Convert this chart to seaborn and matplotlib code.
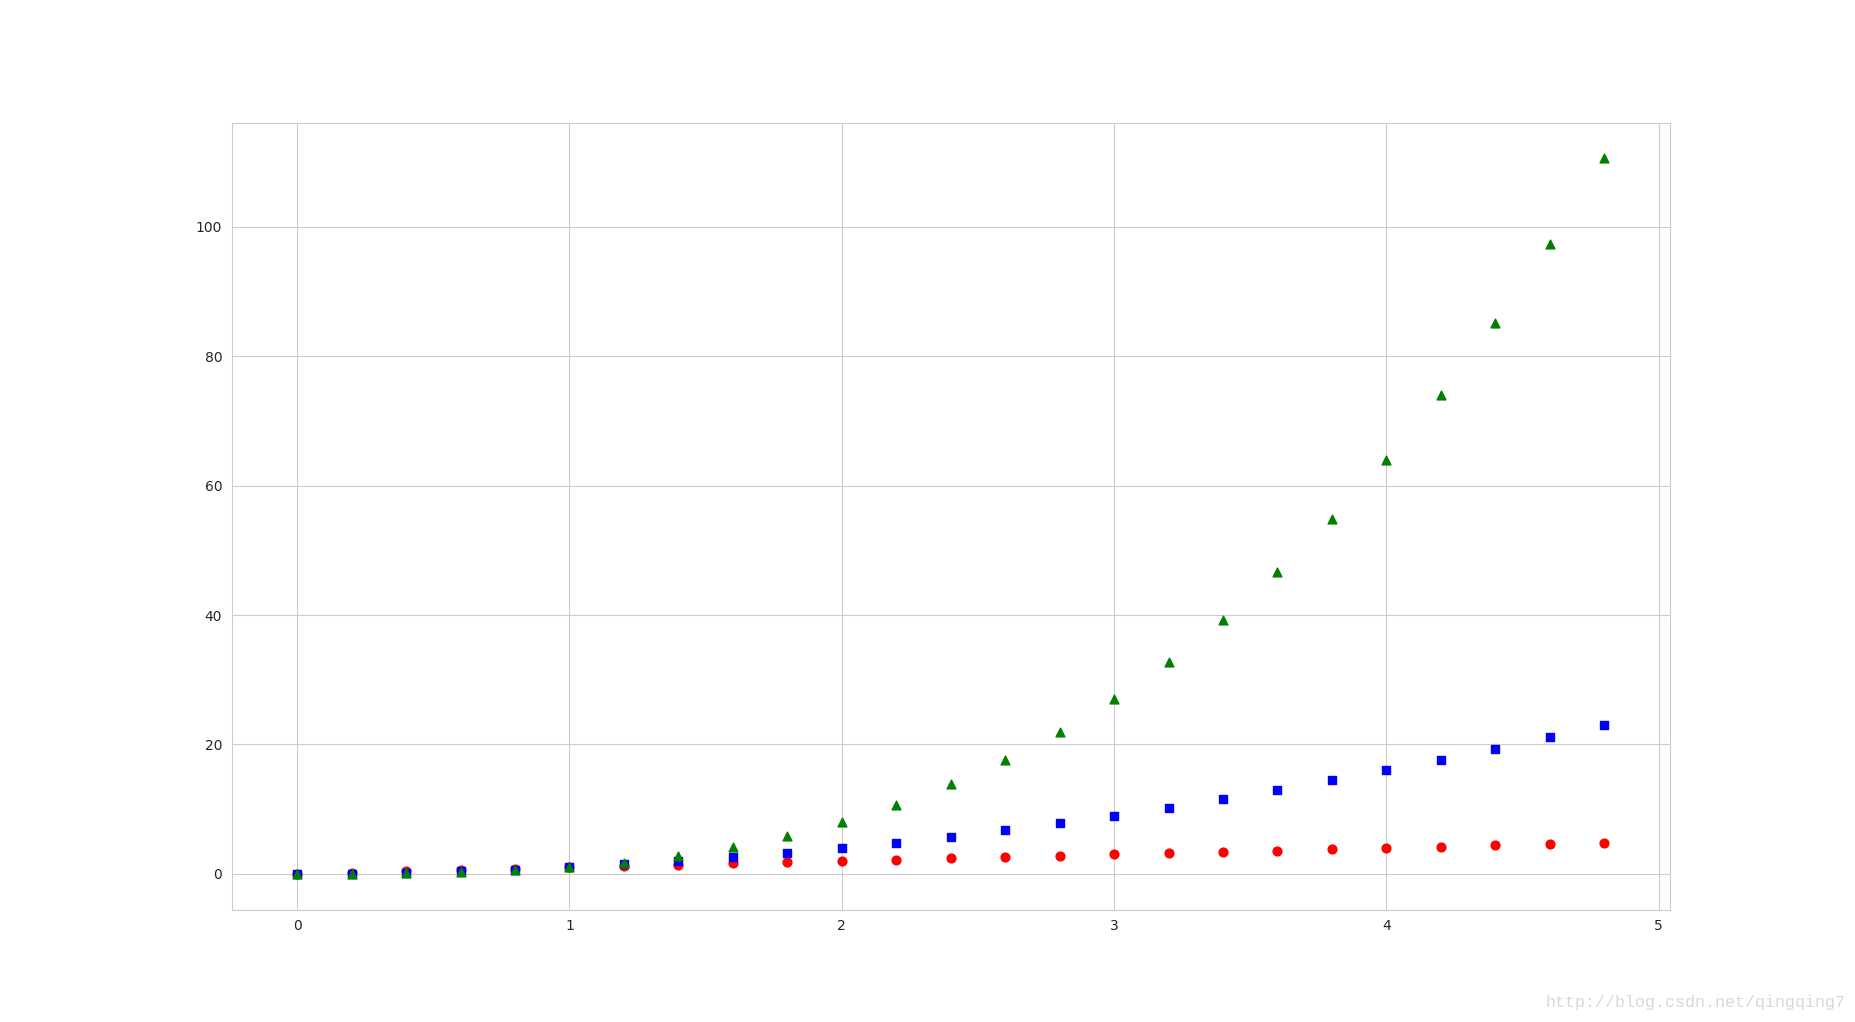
import matplotlib
matplotlib.use("Agg")
import matplotlib.pyplot as plt
import seaborn as sns

# sample points
t = [0.0, 0.2, 0.4, 0.6, 0.8, 1.0, 1.2, 1.4, 1.6, 1.8, 2.0, 2.2, 2.4,
     2.6, 2.8, 3.0, 3.2, 3.4, 3.6, 3.8, 4.0, 4.2, 4.4, 4.6, 4.8]
linear = [0.0, 0.2, 0.4, 0.6, 0.8, 1.0, 1.2, 1.4, 1.6, 1.8, 2.0, 2.2, 2.4,
          2.6, 2.8, 3.0, 3.2, 3.4, 3.6, 3.8, 4.0, 4.2, 4.4, 4.6, 4.8]
square = [0.0, 0.04, 0.16, 0.36, 0.64, 1.0, 1.44, 1.96, 2.56, 3.24, 4.0,
          4.84, 5.76, 6.76, 7.84, 9.0, 10.24, 11.56, 12.96, 14.44, 16.0,
          17.64, 19.36, 21.16, 23.04]
cube = [0.0, 0.008, 0.064, 0.216, 0.512, 1.0, 1.728, 2.744, 4.096, 5.832,
        8.0, 10.648, 13.824, 17.576, 21.952, 27.0, 32.768, 39.304, 46.656,
        54.872, 64.0, 74.088, 85.184, 97.336, 110.592]

sns.set_style("whitegrid")
plt.rcParams['font.family'] = ['DejaVu Sans']

fig, ax = plt.subplots(figsize=(18.55, 10.22), dpi=100)

sns.scatterplot(x=t, y=linear, color='red', marker='o', s=40,
                edgecolor='red', linewidth=1, ax=ax)
sns.scatterplot(x=t, y=square, color='blue', marker='s', s=40,
                edgecolor='blue', linewidth=1, ax=ax)
sns.scatterplot(x=t, y=cube, color='green', marker='^', s=40,
                edgecolor='green', linewidth=1, ax=ax)

ax.tick_params(labelsize=10)
ax.margins(x=0.05, y=0.05)

fig.text(0.995, 0.012, "http://blog.csdn.net/qingqing7", ha='right', va='bottom',
         family='Liberation Mono', fontsize=12, color='#dcd8d0')

fig.savefig("out.png", dpi=100)
